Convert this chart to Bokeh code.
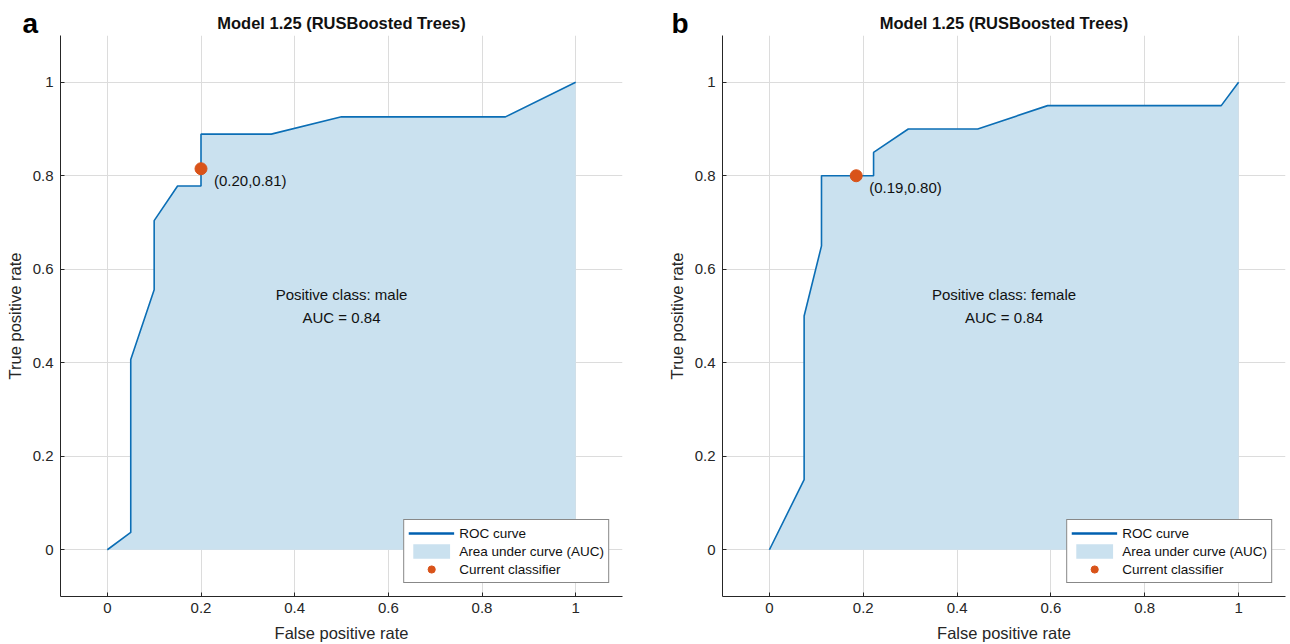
from bokeh.plotting import figure
from bokeh.layouts import row
from bokeh.models import (FixedTicker, Legend, LegendItem, Label, ColumnDataSource, Range1d)
from bokeh.core.properties import value
from bokeh.embed import file_html
from bokeh.resources import INLINE

# ---- data ----
male_fpr = [0.0, 0.05, 0.05, 0.10, 0.10, 0.15, 0.20, 0.20, 0.35, 0.50, 0.85, 1.0]
male_tpr = [0.0, 0.037, 0.407, 0.556, 0.704, 0.778, 0.778, 0.889, 0.889, 0.926, 0.926, 1.0]
male_point = (0.20, 0.815)
male_point_label = "(0.20,0.81)"

female_fpr = [0.0, 0.074, 0.074, 0.111, 0.111, 0.222, 0.222, 0.296, 0.444, 0.593, 0.963, 1.0]
female_tpr = [0.0, 0.15, 0.50, 0.65, 0.80, 0.80, 0.85, 0.90, 0.90, 0.95, 0.95, 1.0]
female_point = (0.185, 0.80)
female_point_label = "(0.19,0.80)"

ticks = [0, 0.2, 0.4, 0.6, 0.8, 1]
tick_labels = ["0", "0.2", "0.4", "0.6", "0.8", "1"]

title_text = "Model 1.25 (RUSBoosted Trees)"
auc_text = "AUC = 0.84"

LINE = "#0b6eb5"
FILL = "#cae1ef"
DOT = "#d95319"
TXT = "#262626"
FONT = "Liberation Sans"
BORDER = 80


def make_panel(fpr, tpr, pt, pt_label, cls, letter, width, shift, border_right, letter_dx):
    p = figure(width=width, height=644, output_backend="svg", toolbar_location=None,
               x_range=Range1d(-0.1, 1.1), y_range=Range1d(-0.1, 1.1),
               min_border_left=BORDER, min_border_right=border_right,
               min_border_top=35, min_border_bottom=47,
               margin=(0, 0, 0, -shift))
    p.title.text = title_text
    p.title.align = "center"
    p.title.text_font = FONT
    p.title.text_font_size = "16.5px"
    p.title.text_font_style = "bold"
    p.title.text_color = "#111111"
    p.title.standoff = 8

    p.outline_line_color = None
    p.background_fill_color = "white"
    p.border_fill_color = "white"

    overrides = {t: l for t, l in zip(ticks, tick_labels)}
    for ax in (p.xaxis[0], p.yaxis[0]):
        ax.ticker = FixedTicker(ticks=ticks)
        ax.major_label_overrides = overrides
        ax.minor_tick_line_color = None
        ax.major_tick_in = 4
        ax.major_tick_out = 0
        ax.major_tick_line_color = TXT
        ax.axis_line_color = TXT
        ax.axis_line_width = 1
        ax.major_label_text_font = FONT
        ax.major_label_text_font_size = "15px"
        ax.major_label_text_color = TXT
        ax.axis_label_text_font = FONT
        ax.axis_label_text_font_size = "16.5px"
        ax.axis_label_text_font_style = "normal"
        ax.axis_label_text_color = TXT
    p.xaxis.axis_label = "False positive rate"
    p.yaxis.axis_label = "True positive rate"
    p.xaxis.major_label_standoff = 6
    p.xaxis.axis_label_standoff = 8
    p.yaxis.major_label_standoff = 7
    p.yaxis.axis_label_standoff = 6

    for g in (p.xgrid[0], p.ygrid[0]):
        g.ticker = FixedTicker(ticks=ticks)
        g.grid_line_color = "#dcdcdc"
        g.grid_line_width = 1

    src = ColumnDataSource(dict(x=fpr, y=tpr, z=[0] * len(fpr)))
    area = p.varea(x="x", y1="z", y2="y", source=src, fill_color=FILL)
    line = p.line(x="x", y="y", source=src, line_color=LINE, line_width=1.6)
    # single-point proxy (draws nothing in the plot) for a thicker legend line
    leg_line = p.line(x=[pt[0]], y=[pt[1]], line_color="#0060b0", line_width=2.6)
    dot = p.scatter(x=[pt[0]], y=[pt[1]], size=12, fill_color=DOT, line_color=DOT)

    p.add_layout(Label(x=pt[0], y=pt[1], text=pt_label, x_offset=13, y_offset=-12,
                       text_font=FONT, text_font_size="15px", text_color="#111111",
                       text_baseline="middle"))

    p.text(x=[0.5, 0.5], y=[0.545, 0.496], text=["Positive class: " + cls, auc_text],
           text_font=value(FONT), text_font_size="15px", text_color="#111111",
           text_align="center", text_baseline="middle")

    # panel letter, positioned relative to the top-left corner of the frame
    p.add_layout(Label(x=-0.1, y=1.1, x_offset=letter_dx, y_offset=12,
                       text=letter, text_font=FONT, text_font_size="28px",
                       text_font_style="bold", text_color="#000000",
                       text_baseline="alphabetic"), "left")

    legend = Legend(items=[LegendItem(label="ROC curve", renderers=[leg_line]),
                           LegendItem(label="Area under curve (AUC)", renderers=[area]),
                           LegendItem(label="Current classifier", renderers=[dot])],
                    location="bottom_right", margin=13, padding=4, spacing=0,
                    glyph_width=46, glyph_height=18, label_height=18, label_standoff=5,
                    label_text_font=FONT, label_text_font_size="13.5px", label_text_color="#111111",
                    border_line_color="#111111", border_line_width=1,
                    background_fill_color="white", background_fill_alpha=1)
    p.add_layout(legend)
    return p


# p1: frame from x=60 to 622 ; p2: frame from x=722 to 1285
p1 = make_panel(male_fpr, male_tpr, male_point, male_point_label, "male", "a",
                width=BORDER + 562 + 26, shift=BORDER - 60, border_right=26, letter_dx=-38)
p2 = make_panel(female_fpr, female_tpr, female_point, female_point_label, "female", "b",
                width=BORDER + 563 + 5, shift=BORDER - 74, border_right=5, letter_dx=-51)

layout = row(p1, p2)
with open("out.html", "w") as f:
    f.write(file_html(layout, INLINE))
